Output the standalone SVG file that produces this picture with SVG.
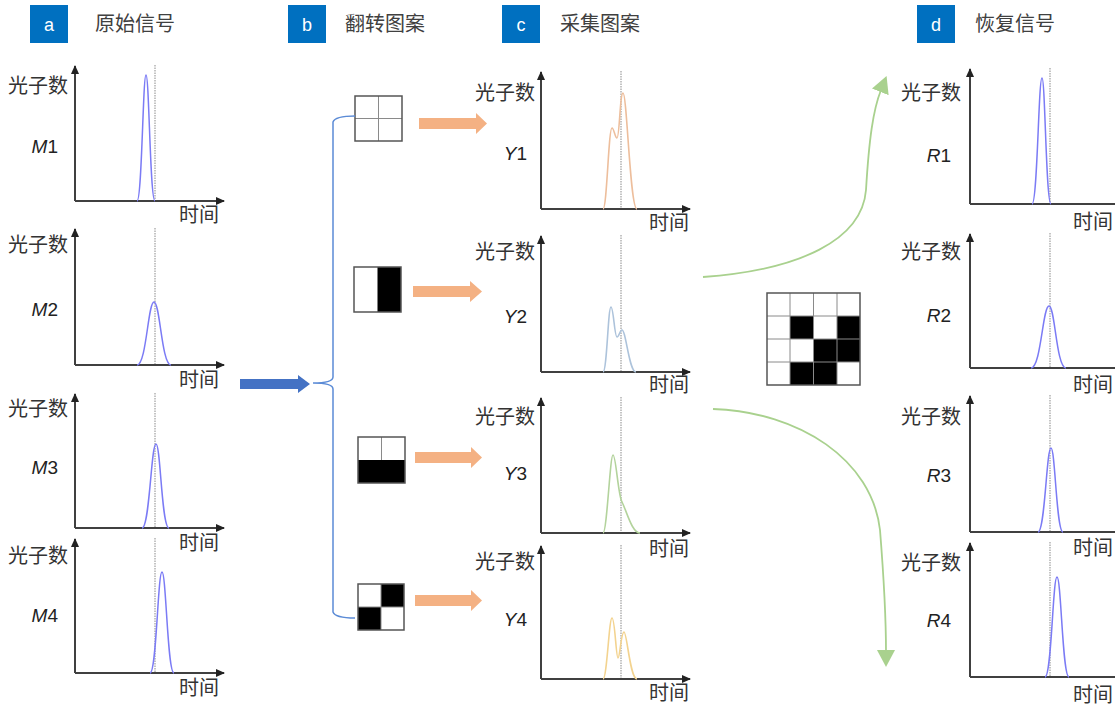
<svg xmlns="http://www.w3.org/2000/svg" width="1115" height="706" viewBox="0 0 1115 706">
<style>
.hdrbox{fill:#0070C0}
.hdrl{font-family:"Liberation Sans",Arial,sans-serif;font-size:18px;fill:#fff;text-anchor:middle}
.hdr{font-family:"Noto Sans CJK SC",sans-serif;font-size:20px;fill:#404040}
.cj{font-family:"Noto Sans CJK SC",sans-serif;font-size:20px;fill:#333}
.cje{font-family:"Noto Sans CJK SC",sans-serif;font-size:20px;fill:#333;text-anchor:end}
.var{font-family:"Liberation Sans",Arial,sans-serif;font-size:19px;fill:#222;text-anchor:end}
.ax{stroke:#404040;stroke-width:2;fill:none}
.dot{stroke:#8a8a8a;stroke-width:1;stroke-dasharray:1.5,1;fill:none}
.sig{stroke:#7B7BF5;stroke-width:1.5;fill:none}
.orng{fill:#F4B183}
.cell{stroke:#8a8a8a;stroke-width:1}
.frame{fill:none;stroke:#555;stroke-width:1.5}
.grn{stroke:#A9D18E;stroke-width:1.8;fill:none}
</style>
<defs>
<marker id="ah" markerWidth="10" markerHeight="10" refX="8" refY="5" orient="auto" markerUnits="userSpaceOnUse">
<path d="M0,1 L9,5 L0,9 z" fill="#222"/>
</marker>
<marker id="gh" markerWidth="18" markerHeight="18" refX="2" refY="9" orient="auto" markerUnits="userSpaceOnUse">
<path d="M0,0 L17,9 L0,18 z" fill="#A9D18E"/>
</marker>
</defs>

<!-- headers -->
<g id="hdr-a"><rect class="hdrbox" x="30" y="5" width="38" height="38"/><text class="hdrl" x="49" y="31">a</text><text class="hdr" x="95" y="31">原始信号</text></g>
<g id="hdr-b"><rect class="hdrbox" x="288" y="5" width="38" height="38"/><text class="hdrl" x="307" y="31">b</text><text class="hdr" x="345" y="31">翻转图案</text></g>
<g id="hdr-c"><rect class="hdrbox" x="502" y="5" width="38" height="38"/><text class="hdrl" x="521" y="31">c</text><text class="hdr" x="560" y="31">采集图案</text></g>
<g id="hdr-d"><rect class="hdrbox" x="917" y="5" width="38" height="38"/><text class="hdrl" x="936" y="31">d</text><text class="hdr" x="975" y="31">恢复信号</text></g>

<!-- panel a -->
<g id="plot-M1">
<line class="dot" x1="155" y1="65" x2="155" y2="201"/>
<path class="ax" d="M75,201 V66" marker-end="url(#ah)"/><path class="ax" d="M75,201 H224" marker-end="url(#ah)"/>
<path class="sig" d="M137,201 C142,201 142.9,75 146,75 C149.2,75 150,201 155,201"/>
<text class="cje" x="68" y="93">光子数</text><text class="var" x="58" y="153"><tspan font-style="italic">M</tspan>1</text><text class="cj" x="179" y="222">时间</text>
</g>
<g id="plot-M2">
<line class="dot" x1="155" y1="228" x2="155" y2="365"/>
<path class="ax" d="M75,365 V229" marker-end="url(#ah)"/><path class="ax" d="M75,365 H224" marker-end="url(#ah)"/>
<path class="sig" d="M137,365 C146.4,365 148,302 154,302 C160,302 161.7,365 171,365"/>
<text class="cje" x="68" y="252">光子数</text><text class="var" x="58" y="316"><tspan font-style="italic">M</tspan>2</text><text class="cj" x="179" y="387">时间</text>
</g>
<g id="plot-M3">
<line class="dot" x1="155" y1="393" x2="155" y2="528"/>
<path class="ax" d="M75,528 V394" marker-end="url(#ah)"/><path class="ax" d="M75,528 H224" marker-end="url(#ah)"/>
<path class="sig" d="M142,528 C149.7,528 151.1,444 156,444 C160.6,444 161.6,528 169,528"/>
<text class="cje" x="68" y="416">光子数</text><text class="var" x="58" y="474"><tspan font-style="italic">M</tspan>3</text><text class="cj" x="179" y="550">时间</text>
</g>
<g id="plot-M4">
<line class="dot" x1="155" y1="538" x2="155" y2="673"/>
<path class="ax" d="M75,673 V539" marker-end="url(#ah)"/><path class="ax" d="M75,673 H224" marker-end="url(#ah)"/>
<path class="sig" d="M150,673 C156.6,673 157.8,572 162,572 C166.2,572 167.4,673 174,673"/>
<text class="cje" x="68" y="563">光子数</text><text class="var" x="58" y="622"><tspan font-style="italic">M</tspan>4</text><text class="cj" x="179" y="695">时间</text>
</g>

<!-- panel b patterns -->
<g id="pat1">
<rect x="355" y="96" width="47" height="45" fill="#fff"/>
<line class="cell" x1="378.5" y1="96" x2="378.5" y2="141"/><line class="cell" x1="355" y1="118.5" x2="402" y2="118.5"/>
<rect class="frame" x="355" y="96" width="47" height="45"/>
</g>
<g id="pat2">
<rect x="354" y="267" width="47" height="45" fill="#fff"/>
<rect x="377.5" y="267" width="23.5" height="45" fill="#000"/>
<rect class="frame" x="354" y="267" width="47" height="45"/>
</g>
<g id="pat3">
<rect x="358" y="437" width="47" height="46" fill="#fff"/>
<line class="cell" x1="381.5" y1="437" x2="381.5" y2="460"/>
<rect x="358" y="460" width="47" height="23" fill="#000"/>
<rect class="frame" x="358" y="437" width="47" height="46"/>
</g>
<g id="pat4">
<rect x="358" y="584" width="46" height="46" fill="#fff"/>
<rect x="381" y="584" width="23" height="23" fill="#000"/>
<rect x="358" y="607" width="23" height="23" fill="#000"/>
<line class="cell" x1="381" y1="584" x2="381" y2="630"/><line class="cell" x1="358" y1="607" x2="404" y2="607"/>
<rect class="frame" x="358" y="584" width="46" height="46"/>
</g>

<!-- panel c -->
<g id="plot-Y1">
<line class="dot" x1="621" y1="71" x2="621" y2="209"/>
<path class="ax" d="M541,209 V72" marker-end="url(#ah)"/><path class="ax" d="M541,209 H690" marker-end="url(#ah)"/>
<path d="M603,209 C607,209 608.5,128 612,128 C614,128 615,138 617,138 C619.5,138 620,93 623,93 C627,93 630,209 637,209" stroke="#EDBE9C" stroke-width="1.6" fill="none"/>
<text class="cje" x="535" y="100">光子数</text><text class="var" x="527" y="160"><tspan font-style="italic">Y</tspan>1</text><text class="cj" x="649" y="230">时间</text>
</g>
<g id="plot-Y2">
<line class="dot" x1="621" y1="235" x2="621" y2="372"/>
<path class="ax" d="M541,372 V236" marker-end="url(#ah)"/><path class="ax" d="M541,372 H690" marker-end="url(#ah)"/>
<path d="M603,372 C607,372 608,307 611,307 C613.5,307 614.5,337 617,337 C619,337 620,330 622,330 C626,330 629,372 636,372" stroke="#ADC3DB" stroke-width="1.6" fill="none"/>
<text class="cje" x="535" y="259">光子数</text><text class="var" x="527" y="323"><tspan font-style="italic">Y</tspan>2</text><text class="cj" x="649" y="392">时间</text>
</g>
<g id="plot-Y3">
<line class="dot" x1="621" y1="397" x2="621" y2="533"/>
<path class="ax" d="M541,533 V398" marker-end="url(#ah)"/><path class="ax" d="M541,533 H690" marker-end="url(#ah)"/>
<path d="M603,533 C607,533 610,455 613,455 C616,455 618,495 622,502 C627,512 632,533 640,533" stroke="#B3D39C" stroke-width="1.6" fill="none"/>
<text class="cje" x="535" y="424">光子数</text><text class="var" x="527" y="480"><tspan font-style="italic">Y</tspan>3</text><text class="cj" x="649" y="556">时间</text>
</g>
<g id="plot-Y4">
<line class="dot" x1="621" y1="545" x2="621" y2="679"/>
<path class="ax" d="M541,679 V546" marker-end="url(#ah)"/><path class="ax" d="M541,679 H690" marker-end="url(#ah)"/>
<path d="M603,679 C607,679 609,618 612,618 C615,618 616,658 618,658 C620,658 621,632 624,632 C627,632 630,679 637,679" stroke="#F3D38F" stroke-width="1.6" fill="none"/>
<text class="cje" x="535" y="569">光子数</text><text class="var" x="527" y="626"><tspan font-style="italic">Y</tspan>4</text><text class="cj" x="649" y="700">时间</text>
</g>

<!-- reconstructed matrix -->
<g id="matrix">
<rect x="767" y="293" width="93" height="92" fill="#fff"/>
<rect x="790" y="316" width="23" height="23" fill="#000"/>
<rect x="837" y="316" width="23" height="23" fill="#000"/>
<rect x="813" y="339" width="47" height="23" fill="#000"/>
<rect x="790" y="362" width="47" height="23" fill="#000"/>
<g class="cell">
<line x1="790" y1="293" x2="790" y2="385"/><line x1="813.5" y1="293" x2="813.5" y2="385"/><line x1="837" y1="293" x2="837" y2="385"/>
<line x1="767" y1="316" x2="860" y2="316"/><line x1="767" y1="339" x2="860" y2="339"/><line x1="767" y1="362" x2="860" y2="362"/>
</g>
<rect class="frame" x="767" y="293" width="93" height="92"/>
</g>

<!-- panel d -->
<g id="plot-R1">
<line class="dot" x1="1050" y1="68" x2="1050" y2="204"/>
<path class="ax" d="M970,204 V69" marker-end="url(#ah)"/><path class="ax" d="M970,204 H1115"/>
<path class="sig" d="M1032,204 C1037.5,204 1038.5,78 1042,78 C1045.2,78 1046,204 1051,204"/>
<text class="cje" x="961" y="100">光子数</text><text class="var" x="951" y="162"><tspan font-style="italic">R</tspan>1</text><text class="cj" x="1073" y="229">时间</text>
</g>
<g id="plot-R2">
<line class="dot" x1="1050" y1="233" x2="1050" y2="368"/>
<path class="ax" d="M970,368 V234" marker-end="url(#ah)"/><path class="ax" d="M970,368 H1115"/>
<path class="sig" d="M1031,368 C1041,368 1042.7,306 1049,306 C1055,306 1056.4,368 1066,368"/>
<text class="cje" x="961" y="259">光子数</text><text class="var" x="951" y="322"><tspan font-style="italic">R</tspan>2</text><text class="cj" x="1073" y="392">时间</text>
</g>
<g id="plot-R3">
<line class="dot" x1="1050" y1="395" x2="1050" y2="532"/>
<path class="ax" d="M970,532 V396" marker-end="url(#ah)"/><path class="ax" d="M970,532 H1115"/>
<path class="sig" d="M1038,532 C1045,532 1046.5,448 1051,448 C1055.2,448 1056.4,532 1063,532"/>
<text class="cje" x="961" y="424">光子数</text><text class="var" x="951" y="482"><tspan font-style="italic">R</tspan>3</text><text class="cj" x="1073" y="555">时间</text>
</g>
<g id="plot-R4">
<line class="dot" x1="1050" y1="542" x2="1050" y2="677"/>
<path class="ax" d="M970,677 V543" marker-end="url(#ah)"/><path class="ax" d="M970,677 H1115"/>
<path class="sig" d="M1045,677 C1051.6,677 1052.8,577 1057,577 C1061.2,577 1062.4,677 1069,677"/>
<text class="cje" x="961" y="570">光子数</text><text class="var" x="951" y="627"><tspan font-style="italic">R</tspan>4</text><text class="cj" x="1073" y="702">时间</text>
</g>

<!-- connectors -->
<g id="connectors">
<polygon points="240,379 298,379 298,375 310,384 298,393 298,389 240,389" fill="#4472C4"/>
<path d="M355,116 Q335,116 333,122 L333,377 Q333,383 313,383 Q333,383 333,389 L333,612 Q335,618 355,618" stroke="#5B8BD6" stroke-width="1.5" fill="none"/>
<polygon class="orng" points="419,118 476,118 476,113 487,123.5 476,134 476,129 419,129"/>
<polygon class="orng" points="413,286 470,286 470,281 482,291.5 470,302 470,297 413,297"/>
<polygon class="orng" points="415,452 471,452 471,447 482,457.5 471,468 471,463 415,463"/>
<polygon class="orng" points="415,595 471,595 471,590 482,600.5 471,611 471,606 415,606"/>
<path class="grn" d="M703,277 C800,270 862,240 866,190 C869,140 873,110 881,90" marker-end="url(#gh)"/>
<path class="grn" d="M713,409 C800,412 872,460 880,530 C884,580 886,625 886,652" marker-end="url(#gh)"/>
</g>
</svg>
